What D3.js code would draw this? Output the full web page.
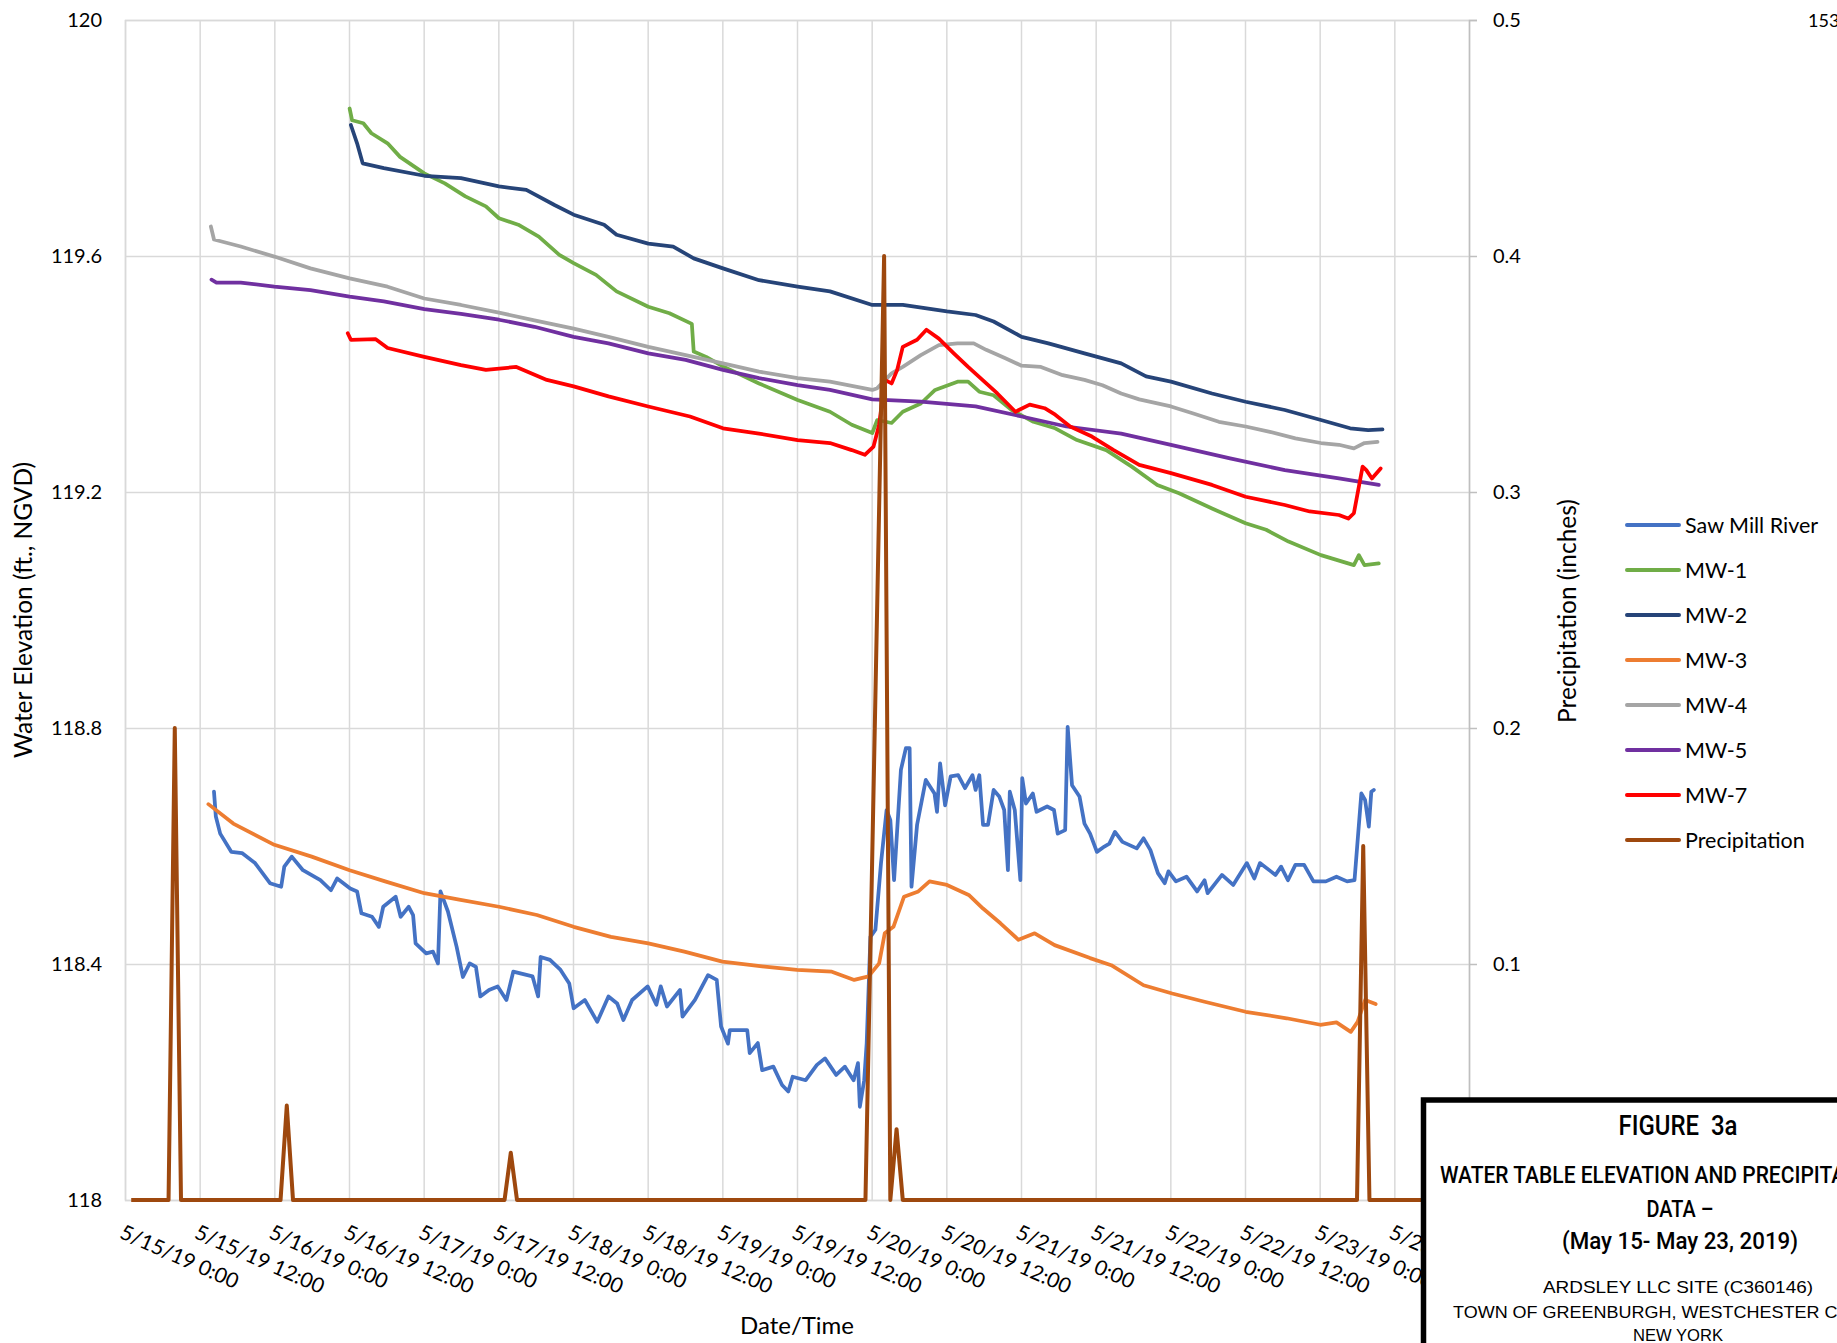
<!DOCTYPE html>
<html>
<head>
<meta charset="utf-8">
<script src="https://cdn.jsdelivr.net/npm/d3@7"></script>
<style>
    body { margin: 0; background: #fff; }
    svg { display: block; font-family: Lato, "Open Sans", sans-serif; }
</style>
</head>
<body>
<svg></svg>
<script>
// hours counted from 5/15/19 0:00
const xTickHours = [0, 12, 24, 36, 48, 60, 72, 84, 96, 108, 120, 132, 144, 156, 168, 180, 192, 204, 216]
const xTickLabels = ["5/15/19 0:00", "5/15/19 12:00", "5/16/19 0:00", "5/16/19 12:00", "5/17/19 0:00",
    "5/17/19 12:00", "5/18/19 0:00", "5/18/19 12:00", "5/19/19 0:00", "5/19/19 12:00", "5/20/19 0:00",
    "5/20/19 12:00", "5/21/19 0:00", "5/21/19 12:00", "5/22/19 0:00", "5/22/19 12:00", "5/23/19 0:00",
    "5/23/19 12:00"]
const yTicks = [118, 118.4, 118.8, 119.2, 119.6, 120]
const yTickLabels = ["118", "118.4", "118.8", "119.2", "119.6", "120"]
const y2Ticks = [0, 0.1, 0.2, 0.3, 0.4, 0.5]
const y2TickLabels = ["0", "0.1", "0.2", "0.3", "0.4", "0.5"]

const sawMillHours = [14.3, 14.6, 15.3, 17.1, 18.8, 20.9, 23.3, 25.1, 25.6, 26.8, 28.6, 31.4, 33.1, 34.1, 36.2, 37.3,
    38.0, 39.7, 40.8, 41.5, 43.5, 44.3, 45.6, 46.3, 46.7, 48.4, 49.5, 50.3, 50.7, 51.9, 53.3, 54.3, 55.4, 56.4, 57.1,
    58.5, 59.9, 61.3, 62.4, 65.5, 66.4, 66.8, 68.3, 70.0, 71.4, 72.1, 73.9, 75.9, 77.7, 79.1, 80.1, 81.5, 84.0, 85.4,
    86.1, 87.1, 89.2, 89.6, 91.6, 93.7, 95.1, 95.8, 96.9, 97.2, 100.0, 100.4, 101.7, 102.4, 104.2, 105.6, 106.6, 107.3,
    109.4, 111.2, 112.5, 114.3, 115.7, 117.1, 117.8, 118.1, 118.8, 119.2, 119.8, 120.6, 121.5, 122.4, 123.0, 123.6,
    124.7, 125.5, 126.1, 126.4, 127.3, 128.7, 130.1, 130.5, 131.0, 131.8, 132.7, 133.9, 135.0, 136.2, 136.7, 137.3,
    137.9, 138.7, 139.6, 140.5, 141.3, 141.9, 142.2, 143.0, 143.9, 144.2, 144.8, 145.9, 146.5, 148.2, 149.3, 149.9,
    151.1, 151.5, 152.2, 153.4, 154.2, 155.1, 156.2, 157.4, 158.2, 159.1, 160.3, 162.6, 163.7, 164.8, 166.0, 167.1,
    167.7, 168.9, 170.6, 172.3, 173.5, 174.0, 176.3, 178.1, 180.3, 181.5, 182.4, 184.9, 185.8, 186.9, 188.1, 189.5,
    191.0, 193.0, 194.7, 196.4, 197.6, 198.7, 199.3, 199.9, 200.3, 200.7]
const sawMillValues = [118.692, 118.650, 118.621, 118.590, 118.588, 118.571, 118.537, 118.531, 118.565, 118.582,
    118.559, 118.542, 118.525, 118.545, 118.528, 118.523, 118.486, 118.480, 118.463, 118.497, 118.514, 118.480, 118.497,
    118.483, 118.435, 118.418, 118.421, 118.401, 118.523, 118.489, 118.429, 118.378, 118.401, 118.395, 118.345, 118.356,
    118.362, 118.339, 118.387, 118.379, 118.345, 118.412, 118.407, 118.390, 118.367, 118.325, 118.339, 118.302, 118.345,
    118.333, 118.305, 118.339, 118.362, 118.331, 118.362, 118.328, 118.356, 118.311, 118.339, 118.381, 118.373, 118.294,
    118.265, 118.288, 118.288, 118.249, 118.266, 118.220, 118.226, 118.195, 118.184, 118.209, 118.203, 118.229, 118.240,
    118.212, 118.226, 118.203, 118.232, 118.158, 118.203, 118.266, 118.446, 118.458, 118.571, 118.661, 118.644, 118.542,
    118.729, 118.766, 118.766, 118.531, 118.636, 118.712, 118.689, 118.658, 118.740, 118.669, 118.718, 118.720, 118.698,
    118.720, 118.695, 118.720, 118.636, 118.636, 118.695, 118.684, 118.661, 118.559, 118.692, 118.661, 118.542, 118.715,
    118.672, 118.689, 118.658, 118.667, 118.661, 118.621, 118.627, 118.802, 118.703, 118.684, 118.638, 118.621, 118.590,
    118.599, 118.604, 118.624, 118.607, 118.596, 118.613, 118.593, 118.554, 118.537, 118.557, 118.540, 118.548, 118.523,
    118.542, 118.520, 118.551, 118.534, 118.571, 118.545, 118.571, 118.551, 118.565, 118.542, 118.568, 118.568, 118.540,
    118.540, 118.548, 118.540, 118.542, 118.689, 118.678, 118.633, 118.692, 118.695]

const mw1Hours = [36.1, 36.5, 38.3, 39.6, 42.2, 44.2, 48.1, 51.4, 54.7, 58.0, 60.1, 63.2, 66.5, 69.8, 72.1, 75.7, 79.0,
    84.1, 87.5, 91.1, 91.4, 93.4, 96.1, 101.9, 108.1, 113.3, 116.8, 120.1, 120.9, 123.2, 125.0, 127.9, 130.2, 133.8,
    135.5, 137.3, 139.6, 142.5, 146.0, 149.5, 153.0, 157.7, 161.8, 165.9, 169.4, 174.7, 180.1, 183.4, 187.0, 192.2,
    197.5, 198.3, 199.2, 201.5]
const mw1Values = [119.850, 119.830, 119.825, 119.808, 119.791, 119.768, 119.740, 119.723, 119.701, 119.684, 119.664,
    119.653, 119.633, 119.602, 119.588, 119.568, 119.540, 119.514, 119.503, 119.485, 119.438, 119.429, 119.413, 119.384,
    119.356, 119.336, 119.314, 119.300, 119.322, 119.317, 119.336, 119.350, 119.373, 119.387, 119.387, 119.370, 119.364,
    119.339, 119.319, 119.308, 119.288, 119.271, 119.243, 119.212, 119.198, 119.172, 119.147, 119.136, 119.116, 119.093,
    119.076, 119.093, 119.076, 119.079]

const mw2Hours = [36.3, 37.3, 38.2, 41.6, 48.1, 54.0, 60.1, 64.5, 69.1, 72.1, 77.0, 79.0, 84.1, 88.1, 91.4, 96.1,
    101.9, 108.1, 113.3, 120.1, 125.0, 132.1, 136.7, 139.6, 144.1, 148.4, 154.2, 160.1, 164.1, 168.1, 174.7, 180.1,
    186.4, 192.2, 196.9, 199.8, 202.1]
const mw2Values = [119.822, 119.791, 119.757, 119.749, 119.736, 119.732, 119.718, 119.712, 119.686, 119.670, 119.653,
    119.636, 119.621, 119.616, 119.596, 119.579, 119.559, 119.548, 119.540, 119.517, 119.517, 119.506, 119.500, 119.489,
    119.463, 119.452, 119.435, 119.418, 119.396, 119.387, 119.367, 119.353, 119.339, 119.322, 119.308, 119.305, 119.306]

const mw3Hours = [13.4, 17.4, 24.0, 30.0, 36.1, 41.8, 48.1, 53.7, 60.1, 66.2, 72.1, 78.1, 84.1, 89.9, 96.0, 102.4,
    108.0, 113.6, 117.2, 119.5, 121.2, 122.1, 123.5, 125.2, 127.5, 129.3, 132.1, 135.6, 137.9, 140.7, 143.6, 146.2,
    149.4, 155.1, 158.5, 163.7, 168.3, 173.5, 180.1, 186.7, 192.1, 194.7, 197.0, 198.1, 199.3, 201.0]
const mw3Values = [118.671, 118.638, 118.602, 118.582, 118.559, 118.540, 118.520, 118.509, 118.497, 118.483, 118.463,
    118.446, 118.435, 118.421, 118.404, 118.396, 118.390, 118.387, 118.373, 118.379, 118.401, 118.452, 118.463, 118.514,
    118.523, 118.540, 118.534, 118.517, 118.494, 118.469, 118.441, 118.452, 118.432, 118.410, 118.398, 118.364, 118.350,
    118.336, 118.319, 118.308, 118.297, 118.301, 118.285, 118.302, 118.339, 118.332]

const mw4Hours = [13.8, 14.3, 18.6, 24.0, 29.8, 36.1, 42.2, 48.1, 54.0, 60.1, 65.8, 72.1, 77.7, 84.1, 90.1, 96.1,
    101.9, 108.1, 113.3, 120.1, 120.9, 123.2, 125.0, 127.9, 130.8, 133.8, 136.4, 138.4, 141.4, 144.1, 147.2, 150.7,
    154.2, 157.1, 160.1, 163.0, 168.1, 171.7, 175.8, 180.1, 184.0, 188.1, 192.2, 195.1, 197.5, 199.2, 201.3]
const mw4Values = [119.650, 119.628, 119.616, 119.599, 119.579, 119.562, 119.548, 119.528, 119.517, 119.504, 119.491,
    119.477, 119.463, 119.446, 119.432, 119.418, 119.404, 119.393, 119.387, 119.373, 119.376, 119.401, 119.412, 119.432,
    119.449, 119.452, 119.452, 119.441, 119.427, 119.414, 119.412, 119.398, 119.390, 119.381, 119.367, 119.357, 119.345,
    119.333, 119.319, 119.311, 119.302, 119.291, 119.283, 119.280, 119.274, 119.283, 119.285]

const mw5Hours = [13.9, 14.7, 18.6, 24.0, 29.8, 36.1, 41.6, 48.1, 54.0, 60.1, 65.8, 72.1, 77.7, 84.1, 90.1, 96.1,
    101.9, 108.1, 113.3, 120.1, 127.9, 136.7, 144.1, 151.3, 160.1, 168.1, 177.6, 186.4, 195.1, 201.5]
const mw5Values = [119.560, 119.555, 119.555, 119.548, 119.542, 119.531, 119.523, 119.510, 119.502, 119.492, 119.480,
    119.463, 119.452, 119.435, 119.424, 119.407, 119.393, 119.381, 119.373, 119.357, 119.353, 119.345, 119.328, 119.311,
    119.299, 119.280, 119.257, 119.237, 119.223, 119.212]

const mw7Hours = [35.8, 36.3, 40.3, 42.2, 48.1, 54.0, 58.0, 62.9, 67.8, 72.1, 77.7, 84.1, 90.8, 96.1, 101.9, 108.1,
    113.3, 116.8, 118.9, 120.3, 121.2, 122.1, 123.2, 124.1, 125.0, 127.3, 128.8, 130.8, 133.2, 135.5, 137.8, 140.2,
    143.1, 145.4, 147.8, 149.5, 151.9, 155.4, 158.9, 163.0, 168.1, 174.7, 180.1, 186.4, 190.4, 195.1, 196.6, 197.5,
    198.9, 199.5, 200.4, 201.8]
const mw7Values = [119.469, 119.458, 119.459, 119.444, 119.429, 119.415, 119.407, 119.412, 119.390, 119.379, 119.362,
    119.345, 119.328, 119.308, 119.299, 119.288, 119.283, 119.271, 119.263, 119.277, 119.314, 119.390, 119.384, 119.407,
    119.446, 119.458, 119.475, 119.460, 119.435, 119.412, 119.390, 119.367, 119.336, 119.348, 119.342, 119.331, 119.311,
    119.294, 119.271, 119.246, 119.232, 119.212, 119.192, 119.178, 119.167, 119.161, 119.155, 119.164, 119.243, 119.237,
    119.223, 119.240]

const precipHours = [1, 7, 8, 9, 25, 26, 27, 61, 62, 63, 119, 122, 123, 124, 125, 198, 199, 200, 216]
const precipValues = [0, 0, 0.2, 0, 0, 0.04, 0, 0, 0.02, 0, 0, 0.4, 0, 0.03, 0, 0, 0.15, 0, 0]

const seriesNames = ["Saw Mill River", "MW-1", "MW-2", "MW-3", "MW-4", "MW-5", "MW-7", "Precipitation"]
const seriesColors = ["#4472c4", "#70ad47", "#264478", "#ed7d31", "#a5a5a5", "#7030a0", "#ff0000", "#9e480e"]

const width = 1837, height = 1343
const plot = { left: 125, right: 1469, top: 20, bottom: 1200 }

const svg = d3.select('svg')
    .attr("width", width)
    .attr("height", height)

const x = d3.scaleLinear().domain([0, 216]).range([plot.left, plot.right])
const y = d3.scaleLinear().domain([118, 120]).range([plot.bottom, plot.top])
const y2 = d3.scaleLinear().domain([0, 0.5]).range([plot.bottom, plot.top])

const grid = "#d9d9d9"

// vertical gridlines
const xAxis = svg.append("g")
    .attr("transform", `translate(0,${plot.bottom})`)
    .call(d3.axisBottom(x).tickValues(xTickHours).tickSize(-(plot.bottom - plot.top)).tickFormat(""))
xAxis.select(".domain").remove()
xAxis.selectAll(".tick line").attr("stroke", grid).attr("stroke-width", 1.5)

// left axis + horizontal gridlines
const yAxis = svg.append("g")
    .attr("transform", `translate(${plot.left},0)`)
    .call(d3.axisLeft(y).tickValues(yTicks).tickSize(-(plot.right - plot.left)).tickPadding(23)
        .tickFormat((d, i) => yTickLabels[i]))
yAxis.select(".domain").attr("stroke", grid).attr("stroke-width", 1.5)
yAxis.selectAll(".tick line").attr("stroke", grid).attr("stroke-width", 1.5)
yAxis.selectAll(".tick text").attr("font-size", 20).attr("fill", "#000").attr("font-family", "Lato")

// right axis
const y2Axis = svg.append("g")
    .attr("transform", `translate(${plot.right},0)`)
    .call(d3.axisRight(y2).tickValues(y2Ticks).tickSize(8).tickPadding(16)
        .tickFormat((d, i) => y2TickLabels[i]))
y2Axis.select(".domain").attr("stroke", "#bfbfbf").attr("stroke-width", 1.5)
y2Axis.selectAll(".tick line").attr("stroke", "#bfbfbf").attr("stroke-width", 1.5)
y2Axis.selectAll(".tick text").attr("font-size", 20).attr("fill", "#000").attr("font-family", "Lato")

// rotated date labels
svg.append("g").selectAll("text")
    .data(xTickLabels)
    .join("text")
    .attr("transform", (d, i) => `translate(${x(xTickHours[i])},1223) rotate(24)`)
    .attr("y", 16)
    .attr("font-size", 21)
    .text(d => d)

// series
const line = d3.line().x(d => x(d[0])).y(d => y(d[1]))
const waterSeries = [
    [sawMillHours, sawMillValues], [mw1Hours, mw1Values], [mw2Hours, mw2Values], [mw3Hours, mw3Values],
    [mw4Hours, mw4Values], [mw5Hours, mw5Values], [mw7Hours, mw7Values]
]
svg.append("g").selectAll("path")
    .data(waterSeries)
    .join("path")
    .attr("fill", "none")
    .attr("stroke", (d, i) => seriesColors[i])
    .attr("stroke-width", 3.75)
    .attr("stroke-linejoin", "round")
    .attr("stroke-linecap", "round")
    .attr("d", d => line(d3.zip(d[0], d[1])))

const precipLine = d3.line().x(d => x(d[0])).y(d => y2(d[1]))
svg.append("path")
    .attr("fill", "none")
    .attr("stroke", seriesColors[7])
    .attr("stroke-width", 4)
    .attr("stroke-linejoin", "round")
    .attr("d", precipLine(d3.zip(precipHours, precipValues)))

// axis titles
svg.append("text")
    .attr("transform", `translate(32,610) rotate(-90)`)
    .attr("text-anchor", "middle")
    .attr("font-size", 24.5)
    .text("Water Elevation (ft., NGVD)")

svg.append("text")
    .attr("transform", `translate(1576,611) rotate(-90)`)
    .attr("text-anchor", "middle")
    .attr("font-size", 24.5)
    .text("Precipitation (inches)")

svg.append("text")
    .attr("x", (plot.left + plot.right) / 2)
    .attr("y", 1334)
    .attr("text-anchor", "middle")
    .attr("font-size", 24)
    .text("Date/Time")

// legend
const legend = svg.append("g").selectAll("g")
    .data(seriesNames)
    .join("g")
    .attr("transform", (d, i) => `translate(1627,${525 + i * 45})`)
legend.append("line")
    .attr("x2", 52)
    .attr("stroke", (d, i) => seriesColors[i])
    .attr("stroke-width", 4)
    .attr("stroke-linecap", "round")
legend.append("text")
    .attr("x", 58)
    .attr("dy", "0.35em")
    .attr("font-size", 21.5)
    .text(d => d)

svg.append("text")
    .attr("x", 1808)
    .attr("y", 27)
    .attr("font-size", 18)
    .text("153")

// figure box
svg.append("rect")
    .attr("x", 1423.5).attr("y", 1100)
    .attr("width", 600).attr("height", 400)
    .attr("fill", "#fff")
    .attr("stroke", "#000")
    .attr("stroke-width", 5.5)

const boxLines = [
    { text: "FIGURE\u00a0\u00a03a", x: 1678, y: 1135, size: 28, weight: 500, len: 119, cond: true },
    { text: "WATER TABLE ELEVATION AND PRECIPITATION", x: 1666, y: 1183, size: 24, weight: 500, len: 452, cond: true },
    { text: "DATA \u2013", x: 1680, y: 1217, size: 24, weight: 500, len: 67, cond: true },
    { text: "(May 15- May 23, 2019)", x: 1680, y: 1249, size: 24, weight: 500, len: 236, cond: true },
    { text: "ARDSLEY LLC SITE (C360146)", x: 1678, y: 1293, size: 17, weight: 400, len: 270, cond: false },
    { text: "TOWN OF GREENBURGH, WESTCHESTER COUNTY,", x: 1678, y: 1318, size: 17, weight: 400, len: 450, cond: false },
    { text: "NEW YORK", x: 1678, y: 1341, size: 17, weight: 400, len: 90, cond: false }
]
svg.append("g").selectAll("text")
    .data(boxLines)
    .join("text")
    .attr("x", d => d.x)
    .attr("y", d => d.y)
    .attr("text-anchor", "middle")
    .attr("font-family", d => d.cond ? "Roboto, 'Liberation Sans', sans-serif" : "'Liberation Sans', Arial, sans-serif")
    .attr("font-size", d => d.size)
    .attr("font-weight", d => d.weight)
    .attr("textLength", d => d.len)
    .attr("lengthAdjust", "spacingAndGlyphs")
    .text(d => d.text)
</script>
</body>
</html>
